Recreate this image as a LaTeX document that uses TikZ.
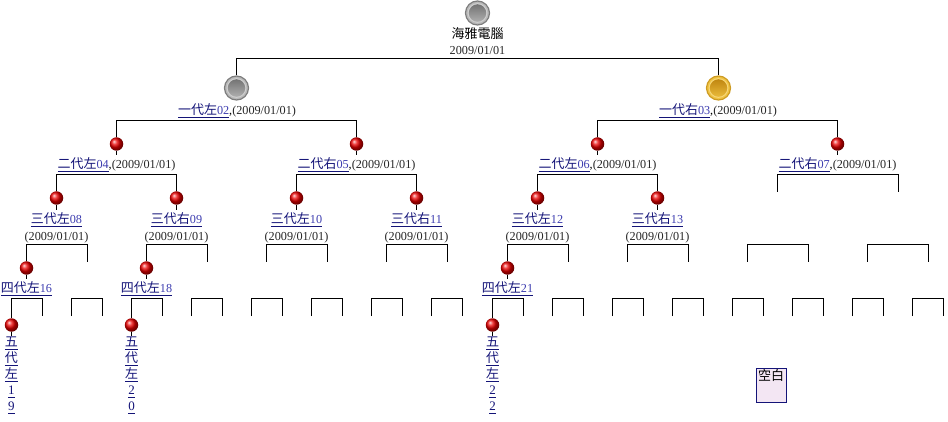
\documentclass[tikz,border=0pt]{standalone}
\usepackage{fontspec}
\setmainfont{Liberation Serif}
\newfontfamily\cjk{Noto Sans CJK TC}
\usetikzlibrary{positioning}
\definecolor{linkblue}{RGB}{20,20,120}
\definecolor{numblue}{RGB}{60,60,175}
\definecolor{blankfill}{RGB}{243,230,243}
\definecolor{grayring}{RGB}{125,125,125}
\definecolor{graytop}{RGB}{105,105,105}
\definecolor{graylow}{RGB}{185,185,185}
\definecolor{goldring}{RGB}{205,155,35}
\definecolor{goldtop}{RGB}{185,125,10}
\definecolor{goldlow}{RGB}{240,195,65}
\newcommand{\lnk}[2]{\textcolor{linkblue}{\underline{{\cjk\fontsize{13}{15}\selectfont #1}\textcolor{numblue}{#2}}}}
\newcommand{\vlnk}[1]{\textcolor{linkblue}{\underline{\raisebox{0pt}[10pt][1pt]{#1}}}}
\begin{document}
\begin{tikzpicture}[x=1pt,y=-1pt,line width=1.15pt,font=\fontsize{12.2}{14}\selectfont,
  red node/.style={circle,inner sep=0pt,minimum size=13.5pt,shade,ball color=red!92!black},
  big node/.style n args={3}{circle,inner sep=0pt,minimum size=24pt,draw=#1,line width=1.2pt,fill=#3,
    path picture={\shade[top color=#2,bottom color=#3] (path picture bounding box.center) circle (8.8pt);
    \draw[#3!70!white,line width=.9pt] (path picture bounding box.center) circle (9.4pt);}},
  name node/.style={inner sep=0pt,minimum height=18pt},
  date node/.style={inner sep=0pt,text=black!85}]
\useasboundingbox (0,0) rectangle (948,422);
% balls
\node[big node={grayring}{graytop}{graylow}] (v1) at (477.5,13) {};
\node[big node={grayring}{graytop}{graylow}] (v2) at (236.5,88) {};
\node[big node={goldring}{goldtop}{goldlow}] (v3) at (718.5,88) {};
\node[red node] (v4) at (116.5,144) {};
\node[red node] (v5) at (356.5,144) {};
\node[red node] (v6) at (597.5,144) {};
\node[red node] (v7) at (837.5,144) {};
\node[red node] (v8) at (56.5,198) {};
\node[red node] (v9) at (176.5,198) {};
\node[red node] (v10) at (296.5,198) {};
\node[red node] (v11) at (416.5,198) {};
\node[red node] (v12) at (537.5,198) {};
\node[red node] (v13) at (657.5,198) {};
\node[red node] (v16) at (26.5,268) {};
\node[red node] (v18) at (146.5,268) {};
\node[red node] (v21) at (507.5,268) {};
\node[red node] (v19) at (11.5,325) {};
\node[red node] (v20) at (131.5,325) {};
\node[red node] (v22) at (492.5,325) {};
% labels
\node[name node] (t1) at (477.5,34) {{\cjk\fontsize{13}{15}\selectfont 海雅電腦}};
\node[date node] (d1) at (477.5,50.5) {2009/01/01};
\node[name node] (t2) at (237,111) {\lnk{一代左}{02},\textcolor{black!85}{(2009/01/01)}};
\node[name node] (t3) at (718,111) {\lnk{一代右}{03},\textcolor{black!85}{(2009/01/01)}};
\node[name node] (t4) at (116.5,165) {\lnk{二代左}{04},\textcolor{black!85}{(2009/01/01)}};
\node[name node] (t5) at (356.5,165) {\lnk{二代右}{05},\textcolor{black!85}{(2009/01/01)}};
\node[name node] (t6) at (597.5,165) {\lnk{二代左}{06},\textcolor{black!85}{(2009/01/01)}};
\node[name node] (t7) at (837.5,165) {\lnk{二代右}{07},\textcolor{black!85}{(2009/01/01)}};
\node[name node] (t8) at (56.5,220) {\lnk{三代左}{08}};
\node[name node] (t9) at (176.5,220) {\lnk{三代右}{09}};
\node[name node] (t10) at (296.5,220) {\lnk{三代左}{10}};
\node[name node] (t11) at (416.5,220) {\lnk{三代右}{11}};
\node[name node] (t12) at (537.5,220) {\lnk{三代左}{12}};
\node[name node] (t13) at (657.5,220) {\lnk{三代右}{13}};
\node[date node] (d8) at (56.5,237.5) {(2009/01/01)};
\node[date node] (d9) at (176.5,237.5) {(2009/01/01)};
\node[date node] (d10) at (296.5,237.5) {(2009/01/01)};
\node[date node] (d11) at (416.5,237.5) {(2009/01/01)};
\node[date node] (d12) at (537.5,237.5) {(2009/01/01)};
\node[date node] (d13) at (657.5,237.5) {(2009/01/01)};
\node[name node] (t16) at (26.5,289) {\lnk{四代左}{16}};
\node[name node] (t18) at (146.5,289) {\lnk{四代左}{18}};
\node[name node] (t21) at (507.5,289) {\lnk{四代左}{21}};
\node[inner sep=0pt,align=center,anchor=north,font=\fontsize{13}{16}\selectfont] (t19) at (11.5,336) {\vlnk{\cjk 五}\\\vlnk{\cjk 代}\\\vlnk{\cjk 左}\\\vlnk{1}\\\vlnk{9}};
\node[inner sep=0pt,align=center,anchor=north,font=\fontsize{13}{16}\selectfont] (t20) at (131.5,336) {\vlnk{\cjk 五}\\\vlnk{\cjk 代}\\\vlnk{\cjk 左}\\\vlnk{2}\\\vlnk{0}};
\node[inner sep=0pt,align=center,anchor=north,font=\fontsize{13}{16}\selectfont] (t22) at (492.5,336) {\vlnk{\cjk 五}\\\vlnk{\cjk 代}\\\vlnk{\cjk 左}\\\vlnk{2}\\\vlnk{2}};
\node[draw=linkblue,fill=blankfill,anchor=north,line width=.9pt,inner sep=1pt,minimum width=30pt,text height=11pt,text depth=21pt] (blank) at (771,368) {{\cjk\fontsize{13}{15}\selectfont 空白}};
% bar centres
\coordinate (s1) at (477.5,58.5);
\coordinate (s2) at (236.5,120.5);
\coordinate (s3) at (717.5,120.5);
\coordinate (s4) at (116.5,174.5);
\coordinate (s5) at (356.5,174.5);
\coordinate (s6) at (597.5,174.5);
\coordinate (s7) at (837.5,174.5);
\coordinate (s8) at (56.5,244.5);
\coordinate (s9) at (176.5,244.5);
\coordinate (s10) at (296.5,244.5);
\coordinate (s11) at (416.5,244.5);
\coordinate (s12) at (537.5,244.5);
\coordinate (s13) at (657.5,244.5);
\coordinate (s14) at (777.5,244.5);
\coordinate (s15) at (897.5,244.5);
\coordinate (s16) at (26.5,298.5);
\coordinate (s17) at (87.5,298.5);
\coordinate (s18) at (146.5,298.5);
\coordinate (s23) at (207.5,298.5);
\coordinate (s24) at (267.5,298.5);
\coordinate (s25) at (327.5,298.5);
\coordinate (s26) at (387.5,298.5);
\coordinate (s27) at (447.5,298.5);
\coordinate (s21) at (507.5,298.5);
\coordinate (s28) at (567.5,298.5);
\coordinate (s29) at (628.5,298.5);
\coordinate (s30) at (688.5,298.5);
\coordinate (s31) at (748.5,298.5);
\coordinate (s32) at (808.5,298.5);
\coordinate (s33) at (868.5,298.5);
\coordinate (s34) at (928.5,298.5);
% free ends
\coordinate (a7) at (777.5,192);
\coordinate (b7) at (898.5,192);
\coordinate (b8) at (87.5,262);
\coordinate (b9) at (207.5,262);
\coordinate (a10) at (266.5,262);
\coordinate (b10) at (327.5,262);
\coordinate (a11) at (386.5,262);
\coordinate (b11) at (447.5,262);
\coordinate (b12) at (568.5,262);
\coordinate (a13) at (627.5,262);
\coordinate (b13) at (688.5,262);
\coordinate (a14) at (747.5,262);
\coordinate (b14) at (808.5,262);
\coordinate (a15) at (867.5,262);
\coordinate (b15) at (928.5,262);
\coordinate (b16) at (42.5,316);
\coordinate (a17) at (71.5,316);
\coordinate (b17) at (102.5,316);
\coordinate (b18) at (162.5,316);
\coordinate (a23) at (191.5,316);
\coordinate (b23) at (222.5,316);
\coordinate (a24) at (251.5,316);
\coordinate (b24) at (282.5,316);
\coordinate (a25) at (311.5,316);
\coordinate (b25) at (342.5,316);
\coordinate (a26) at (371.5,316);
\coordinate (b26) at (402.5,316);
\coordinate (a27) at (431.5,316);
\coordinate (b27) at (462.5,316);
\coordinate (b21) at (523.5,316);
\coordinate (a28) at (552.5,316);
\coordinate (b28) at (583.5,316);
\coordinate (a29) at (612.5,316);
\coordinate (b29) at (643.5,316);
\coordinate (a30) at (672.5,316);
\coordinate (b30) at (703.5,316);
\coordinate (a31) at (732.5,316);
\coordinate (b31) at (763.5,316);
\coordinate (a32) at (792.5,316);
\coordinate (b32) at (823.5,316);
\coordinate (a33) at (852.5,316);
\coordinate (b33) at (883.5,316);
\coordinate (a34) at (912.5,316);
\coordinate (b34) at (943.5,316);
% brackets
\draw (v2) |- (s1) -| (v3);
\draw (v4) |- (s2) -| (v5);
\draw (v6) |- (s3) -| (v7);
\draw (v8) |- (s4) -| (v9);
\draw (v10) |- (s5) -| (v11);
\draw (v12) |- (s6) -| (v13);
\draw (a7) |- (s7) -| (b7);
\draw (v16) |- (s8) -| (b8);
\draw (v18) |- (s9) -| (b9);
\draw (a10) |- (s10) -| (b10);
\draw (a11) |- (s11) -| (b11);
\draw (v21) |- (s12) -| (b12);
\draw (a13) |- (s13) -| (b13);
\draw (a14) |- (s14) -| (b14);
\draw (a15) |- (s15) -| (b15);
\draw (v19) |- (s16) -| (b16);
\draw (a17) |- (s17) -| (b17);
\draw (v20) |- (s18) -| (b18);
\draw (a23) |- (s23) -| (b23);
\draw (a24) |- (s24) -| (b24);
\draw (a25) |- (s25) -| (b25);
\draw (a26) |- (s26) -| (b26);
\draw (a27) |- (s27) -| (b27);
\draw (v22) |- (s21) -| (b21);
\draw (a28) |- (s28) -| (b28);
\draw (a29) |- (s29) -| (b29);
\draw (a30) |- (s30) -| (b30);
\draw (a31) |- (s31) -| (b31);
\draw (a32) |- (s32) -| (b32);
\draw (a33) |- (s33) -| (b33);
\draw (a34) |- (s34) -| (b34);
% stems
\draw (v4) -- (v4 |- t4.north);
\draw (v5) -- (v5 |- t5.north);
\draw (v6) -- (v6 |- t6.north);
\draw (v7) -- (v7 |- t7.north);
\draw (v8) -- (v8 |- t8.north);
\draw (v9) -- (v9 |- t9.north);
\draw (v10) -- (v10 |- t10.north);
\draw (v11) -- (v11 |- t11.north);
\draw (v12) -- (v12 |- t12.north);
\draw (v13) -- (v13 |- t13.north);
\draw (v16) -- (v16 |- t16.north);
\draw (v18) -- (v18 |- t18.north);
\draw (v21) -- (v21 |- t21.north);
\draw (v19) -- (t19);
\draw (v20) -- (t20);
\draw (v22) -- (t22);
\end{tikzpicture}
\end{document}
